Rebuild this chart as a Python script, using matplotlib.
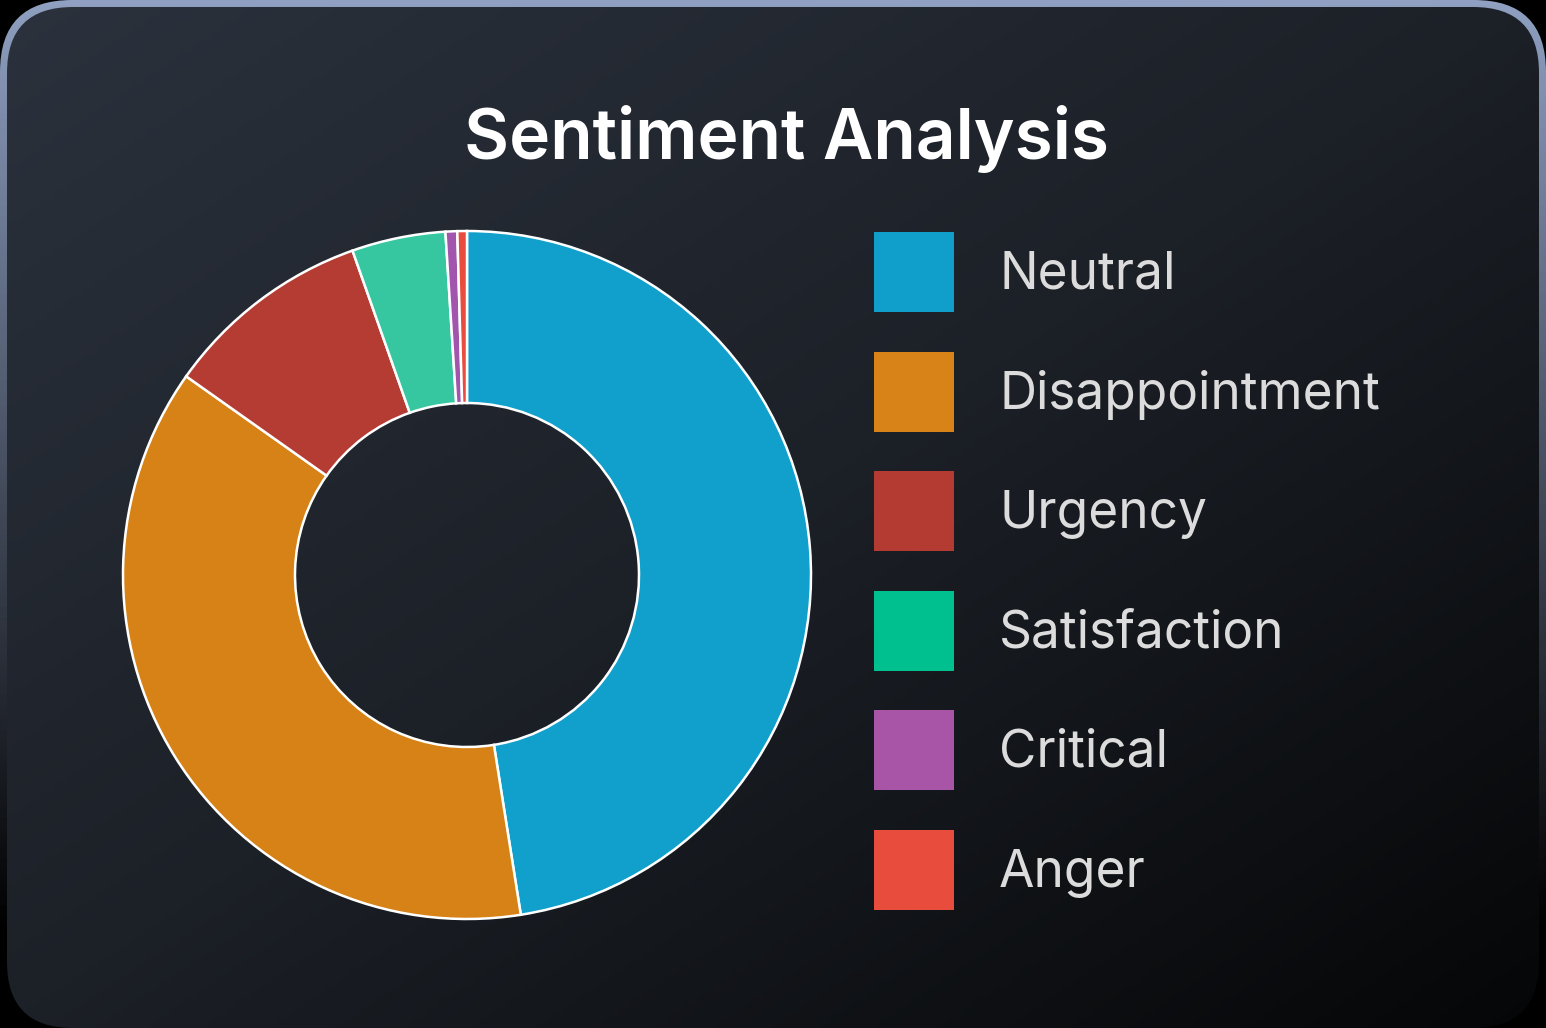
import numpy as np
import matplotlib
matplotlib.use("Agg")
import matplotlib.pyplot as plt
from matplotlib.patches import FancyBboxPatch, Rectangle
from matplotlib.colors import to_rgb

plt.rcParams['font.family'] = ['Inter', 'DejaVu Sans']

# data
labels = ["Neutral", "Disappointment", "Urgency", "Satisfaction", "Critical", "Anger"]
values = [47.5, 37.3, 9.8, 4.4, 0.55, 0.45]
pie_colors = ["#10a0cb", "#d68216", "#b43c33", "#36c6a0", "#a255ad", "#e74c3c"]
legend_colors = ["#0f9fca", "#d78318", "#b33b32", "#00c08f", "#a855a8", "#e74c3c"]
title = "Sentiment Analysis"

W, H = 1546, 1028
fig = plt.figure(figsize=(W / 100, H / 100), dpi=100)
fig.patch.set_facecolor("black")

bg = fig.add_axes([0, 0, 1, 1])
bg.set_xlim(0, W)
bg.set_ylim(H, 0)
bg.axis("off")

# card border (fading downward)
outer = FancyBboxPatch((0, 0), W, H, boxstyle="round,pad=0,rounding_size=72",
                       facecolor="none", edgecolor="none")
bg.add_patch(outer)
yy = np.linspace(0, 1, 200)[:, None]
border = np.zeros((200, 2, 4))
border[..., :3] = to_rgb("#8fa0c2")
border[..., 3] = np.clip(1 - yy * 1.1, 0, 1)
im = bg.imshow(border, extent=[0, W, H, 0], aspect="auto", zorder=1)
im.set_clip_path(outer)

# card background gradient (diagonal)
inner = FancyBboxPatch((7, 7), W - 14, H - 7, boxstyle="round,pad=0,rounding_size=66",
                       facecolor="none", edgecolor="none")
bg.add_patch(inner)
gx, gy = np.meshgrid(np.linspace(0, 1, 300), np.linspace(0, 1, 200))
t = (gx + gy) / 2
c0, c1, c2 = [np.array(to_rgb(c)) for c in ("#2b323d", "#1c2027", "#050607")]
grad = np.where(t[..., None] < 0.5,
                c0 + (c1 - c0) * (t[..., None] / 0.5),
                c1 + (c2 - c1) * ((t[..., None] - 0.5) / 0.5))
im2 = bg.imshow(grad, extent=[0, W, H, 0], aspect="auto", zorder=2)
im2.set_clip_path(inner)

# title
bg.text(786, 139, title, ha="center", va="center", color="white",
        fontsize=50, fontweight="semibold", zorder=5)

# legend
for i, (lab, col) in enumerate(zip(labels, legend_colors)):
    yc = 272 + i * 119.6
    bg.add_patch(Rectangle((874, yc - 40), 80, 80, facecolor=col, edgecolor="none", zorder=5))
    bg.text(999, yc + 3, lab, ha="left", va="center", color="#dcdcdc", fontsize=37, zorder=5)

# donut
cx, cy, r = 467, 575, 344
ax = fig.add_axes([(cx - r) / W, (H - cy - r) / H, 2 * r / W, 2 * r / H])
ax.set_zorder(3)
ax.pie(values, colors=pie_colors, startangle=90, counterclock=False, radius=1,
       wedgeprops=dict(width=0.5, edgecolor="white", linewidth=1.8))
ax.set_xlim(-1, 1)
ax.set_ylim(-1, 1)
ax.set_aspect("equal")
ax.axis("off")

fig.savefig("out.png", dpi=100, facecolor="black")
